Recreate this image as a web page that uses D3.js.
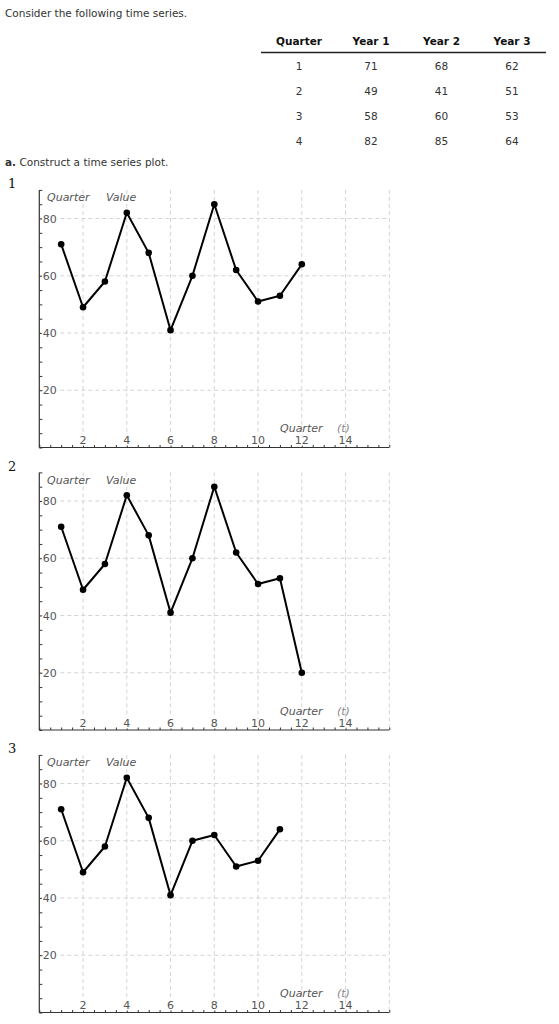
<!DOCTYPE html>
<html>
<head>
<meta charset="UTF-8">
<title>index</title>
<script src="https://d3js.org/d3.v7.min.js"></script>
<style>
	body { margin: 0; background: #fff; }
	svg { display: block; }
	.page { font-family: "DejaVu Sans", Verdana, sans-serif; font-size: 10.5px; fill: #333; }
	.axlabel { font-family: "DejaVu Sans", sans-serif; font-size: 11px; fill: #555; }
	.grid { stroke: #d4d4d4; stroke-width: 1; stroke-dasharray: 4,3; }
	.halo { paint-order: stroke; stroke: #fff; stroke-width: 3px; }
</style>
</head>
<body>
<script>
	// table data
	var quarters = [1, 2, 3, 4];
	var year1 = [71, 49, 58, 82];
	var year2 = [68, 41, 60, 85];
	var year3 = [62, 51, 53, 64];
	var tableHeads = ["Quarter", "Year 1", "Year 2", "Year 3"];

	// the three answer choices (value per t = 1, 2, ...)
	var choice1 = [71, 49, 58, 82, 68, 41, 60, 85, 62, 51, 53, 64];
	var choice2 = [71, 49, 58, 82, 68, 41, 60, 85, 62, 51, 53, 20];
	var choice3 = [71, 49, 58, 82, 68, 41, 60, 62, 51, 53, 64];
	var choices = [choice1, choice2, choice3];

	var xTicks = [2, 4, 6, 8, 10, 12, 14];
	var yTicks = [20, 40, 60, 80];

	var svg = d3.select("body").append("svg").attr("width", 559).attr("height", 1024);

	// ---------- text and table ----------
	svg.append("text").attr("class", "page").attr("x", 5).attr("y", 16.5)
		.text("Consider the following time series.");

	var colX = [299, 371, 441.5, 512];
	var rowY = [70, 95, 120, 144.5];

	svg.selectAll(".head").data(tableHeads).enter().append("text")
		.attr("class", "page head")
		.attr("x", function(d, i) { return colX[i]; })
		.attr("y", 45)
		.attr("text-anchor", "middle")
		.style("font-weight", "bold")
		.style("fill", "#111")
		.text(function(d) { return d; });

	svg.append("line").attr("x1", 261).attr("x2", 546).attr("y1", 52.5).attr("y2", 52.5)
		.attr("stroke", "#222").attr("stroke-width", 1.3);

	var rows = quarters.map(function(q, i) { return [q, year1[i], year2[i], year3[i]]; });
	rows.forEach(function(r, ri) {
		svg.selectAll(".row" + ri).data(r).enter().append("text")
			.attr("class", "page")
			.attr("x", function(d, i) { return colX[i]; })
			.attr("y", rowY[ri])
			.attr("text-anchor", "middle")
			.text(function(d) { return d; });
	});

	var part = svg.append("text").attr("class", "page").attr("x", 5).attr("y", 166);
	part.append("tspan").style("font-weight", "bold").text("a.");
	part.append("tspan").text(" Construct a time series plot.");

	// ---------- charts ----------
	var x = d3.scaleLinear().domain([0, 16]).range([39.3, 389.3]);
	var y = d3.scaleLinear().domain([0, 90]).range([447.5, 189.9]);
	var offsets = [0, 282.5, 565];

	choices.forEach(function(vals, ci) {
		var g = svg.append("g").attr("transform", "translate(0," + offsets[ci] + ")");

		svg.append("text").attr("x", 8).attr("y", 188 + offsets[ci])
			.style("font-family", "'DejaVu Serif', serif").style("font-size", "13px")
			.style("fill", "#111").text(ci + 1);

		// grid
		g.selectAll(".vg").data(xTicks.concat([16])).enter().append("line")
			.attr("class", "grid")
			.attr("x1", function(d) { return x(d); }).attr("x2", function(d) { return x(d); })
			.attr("y1", y(90)).attr("y2", y(0));
		g.selectAll(".hg").data(yTicks).enter().append("line")
			.attr("class", "grid")
			.attr("x1", x(0)).attr("x2", x(16))
			.attr("y1", function(d) { return y(d); }).attr("y2", function(d) { return y(d); });

		// y axis, ticks inward every 5
		var yAxis = d3.axisRight(y).tickValues(d3.range(0, 91, 5)).tickSize(3).tickFormat("");
		var ya = g.append("g").attr("transform", "translate(" + x(0) + ",0)").call(yAxis);
		ya.select(".domain").remove();
		ya.selectAll("line").attr("stroke", "#333");
		g.append("line").attr("x1", x(0)).attr("x2", x(0)).attr("y1", y(90)).attr("y2", y(0))
			.attr("stroke", "#333").attr("stroke-width", 1.2);

		// x axis, ticks upward every 0.5
		var xAxis = d3.axisTop(x).tickValues(d3.range(0, 16.01, 0.5)).tickSize(2.5).tickFormat("");
		var xa = g.append("g").attr("transform", "translate(0," + y(0) + ")").call(xAxis);
		xa.select(".domain").remove();
		xa.selectAll("line").attr("stroke", "#333");
		g.append("line").attr("x1", x(0)).attr("x2", x(16)).attr("y1", y(0)).attr("y2", y(0))
			.attr("stroke", "#333").attr("stroke-width", 1.2);

		// tick labels
		g.selectAll(".xl").data(xTicks).enter().append("text")
			.attr("class", "axlabel halo")
			.attr("x", function(d) { return x(d); })
			.attr("y", y(0) - 3.5)
			.attr("text-anchor", "middle")
			.text(function(d) { return d; });
		g.selectAll(".yl").data(yTicks).enter().append("text")
			.attr("class", "axlabel halo")
			.attr("x", x(0) + 3.5)
			.attr("y", function(d) { return y(d) + 4; })
			.text(function(d) { return d; });

		// axis titles
		g.append("text").attr("class", "axlabel").attr("x", 47).attr("y", 201)
			.style("font-style", "italic").text("Quarter");
		g.append("text").attr("class", "axlabel").attr("x", 106).attr("y", 201)
			.style("font-style", "italic").text("Value");
		g.append("text").attr("class", "axlabel").attr("x", 280).attr("y", 432)
			.style("font-style", "italic").text("Quarter");
		g.append("text").attr("class", "axlabel").attr("x", 337).attr("y", 432)
			.style("font-style", "italic").style("fill", "#888").text("(t)");

		// series
		var line = d3.line()
			.x(function(d, i) { return x(i + 1); })
			.y(function(d) { return y(d); });
		g.append("path").datum(vals).attr("d", line)
			.attr("fill", "none").attr("stroke", "#000").attr("stroke-width", 2)
			.attr("stroke-linejoin", "round");
		g.selectAll(".pt").data(vals).enter().append("circle")
			.attr("cx", function(d, i) { return x(i + 1); })
			.attr("cy", function(d) { return y(d); })
			.attr("r", 3.3)
			.attr("fill", "#000");
	});
</script>
</body>
</html>
